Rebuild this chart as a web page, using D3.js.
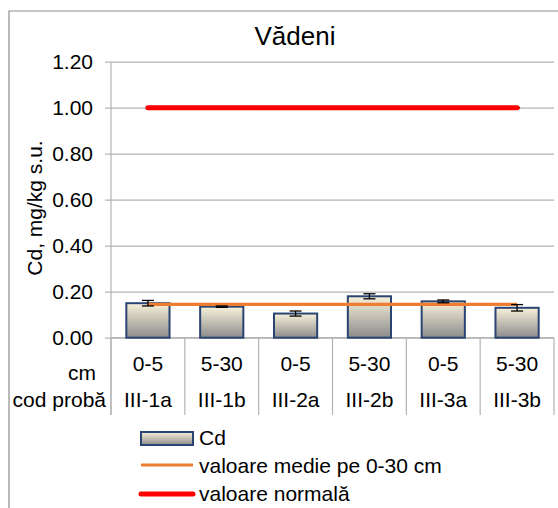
<!DOCTYPE html>
<html><head><meta charset="utf-8">
<script src="https://cdn.jsdelivr.net/npm/d3@7"></script>
<style>body{margin:0;background:#fff}svg{display:block;font-family:"Liberation Sans",Arial,sans-serif}</style>
</head><body><svg id="c" width="558" height="508"></svg>
<script>
const depths = ["0-5","5-30","0-5","5-30","0-5","5-30"];
const codes = ["III-1a","III-1b","III-2a","III-2b","III-3a","III-3b"];
const cdValues = [0.15,0.135,0.105,0.18,0.158,0.13];
const cdErrors = [0.012,0.003,0.011,0.011,0.006,0.014];
const meanValues = [0.145,0.145,0.145,0.145,0.145,0.145];
const normalValues = [1.0,1.0,1.0,1.0,1.0,1.0];
const yTicks = [0,0.2,0.4,0.6,0.8,1.0,1.2];
const legendLabels = ["Cd","valoare medie pe 0-30 cm","valoare normală"];

const FS = 21;
const svg = d3.select("#c");
const defs = svg.append("defs");
const g = defs.append("linearGradient").attr("id","bg").attr("x1",0).attr("y1",0).attr("x2",0).attr("y2",1);
g.append("stop").attr("offset","0%").attr("stop-color","#f8f1da");
g.append("stop").attr("offset","100%").attr("stop-color","#8c8c8c");

const L=111, R=554, T=61.7, B=337.7;
const x = d3.scaleBand().domain(codes).range([L,R]).paddingInner(0).paddingOuter(0);
const y = d3.scaleLinear().domain([0,1.2]).range([B,T]);
const bw = x.bandwidth()*0.585;

// outer frame
svg.append("path").attr("d","M9,508V11H558").attr("fill","none").attr("stroke","#8c8c8c").attr("stroke-width",1.2);

// title
svg.append("text").attr("x",295).attr("y",45).attr("text-anchor","middle").attr("font-size",26).attr("fill","#000").text("Vădeni");

// gridlines + y axis
const yAxis = d3.axisLeft(y).tickValues(yTicks).tickFormat(d3.format(".2f")).tickSize(-(R-L)).tickPadding(12);
const ya = svg.append("g").attr("transform",`translate(${L},0)`).call(yAxis);
ya.select(".domain").remove();
ya.selectAll(".tick line").attr("stroke","#b4b4b4").attr("stroke-width",1.2).attr("x1",-6);
ya.selectAll(".tick text").attr("font-size",FS).attr("fill","#000").attr("font-family","Liberation Sans, Arial, sans-serif").attr("x",-18);
svg.append("line").attr("x1",L).attr("x2",L).attr("y1",T).attr("y2",415).attr("stroke","#b4b4b4").attr("stroke-width",1.2);

// y label
svg.append("text").attr("transform","translate(42,208) rotate(-90)").attr("text-anchor","middle").attr("font-size",FS).text("Cd, mg/kg s.u.");

// category dividers
const bounds = codes.map(c=>x(c)).concat([R]);
svg.selectAll(".div").data(bounds).enter().append("line")
  .attr("x1",d=>d).attr("x2",d=>d).attr("y1",B).attr("y2",415)
  .attr("stroke","#b4b4b4").attr("stroke-width",1.2);
svg.append("line").attr("x1",L).attr("x2",R).attr("y1",B).attr("y2",B).attr("stroke","#b4b4b4").attr("stroke-width",1.2);

// bars
svg.selectAll(".bar").data(cdValues).enter().append("rect")
  .attr("x",(d,i)=>x(codes[i])+(x.bandwidth()-bw)/2).attr("width",bw)
  .attr("y",d=>y(d)).attr("height",d=>B-y(d))
  .attr("fill","url(#bg)").attr("stroke","#2a4472").attr("stroke-width",2);

// mean line
const line = d3.line().x((d,i)=>x(codes[i])+x.bandwidth()/2).y(d=>y(d));
svg.append("path").attr("d",line(meanValues)).attr("fill","none").attr("stroke","#ed7d31").attr("stroke-width",3.2);

// error bars
const eb = svg.selectAll(".eb").data(cdValues).enter().append("g");
eb.append("line").attr("x1",(d,i)=>x(codes[i])+x.bandwidth()/2).attr("x2",(d,i)=>x(codes[i])+x.bandwidth()/2)
  .attr("y1",(d,i)=>y(d+cdErrors[i])).attr("y2",(d,i)=>y(d-cdErrors[i])).attr("stroke","#000").attr("stroke-width",1.3);
[1,-1].forEach(s=>{
  eb.append("line").attr("x1",(d,i)=>x(codes[i])+x.bandwidth()/2-6).attr("x2",(d,i)=>x(codes[i])+x.bandwidth()/2+6)
    .attr("y1",(d,i)=>y(d+s*cdErrors[i])).attr("y2",(d,i)=>y(d+s*cdErrors[i])).attr("stroke","#000").attr("stroke-width",1.3);
});

// normal line (dark end caps under red)
const xs0 = x(codes[0])+x.bandwidth()/2, xs1 = x(codes[codes.length-1])+x.bandwidth()/2;
svg.append("line").attr("x1",xs0-2).attr("x2",xs1+3).attr("y1",y(normalValues[0])).attr("y2",y(normalValues[0])).attr("stroke","#444").attr("stroke-width",2);
svg.append("path").attr("d",line(normalValues)).attr("fill","none").attr("stroke","#ff0000").attr("stroke-width",5).attr("stroke-linecap","round");

// category labels
svg.selectAll(".dl").data(depths).enter().append("text")
  .attr("x",(d,i)=>x(codes[i])+x.bandwidth()/2).attr("y",371).attr("text-anchor","middle").attr("font-size",FS).text(d=>d);
svg.selectAll(".cl").data(codes).enter().append("text")
  .attr("x",d=>x(d)+x.bandwidth()/2).attr("y",407).attr("text-anchor","middle").attr("font-size",FS).text(d=>d);
svg.append("text").attr("x",96).attr("y",380).attr("text-anchor","end").attr("font-size",FS).text("cm");
svg.append("text").attr("x",106).attr("y",407).attr("text-anchor","end").attr("font-size",FS).text("cod probă");

// legend
const lx=141, lw=52, tx=199;
svg.append("rect").attr("x",lx).attr("y",432).attr("width",lw).attr("height",13).attr("fill","url(#bg)").attr("stroke","#2a4472").attr("stroke-width",2);
svg.append("line").attr("x1",lx).attr("x2",lx+lw).attr("y1",465).attr("y2",465).attr("stroke","#ed7d31").attr("stroke-width",3.2);
svg.append("line").attr("x1",lx).attr("x2",lx+lw).attr("y1",494).attr("y2",494).attr("stroke","#ff0000").attr("stroke-width",5).attr("stroke-linecap","round");
svg.selectAll(".lt").data(legendLabels).enter().append("text")
  .attr("x",tx).attr("y",(d,i)=>[445,473,501][i]).attr("font-size",FS).text(d=>d);
</script></body></html>
